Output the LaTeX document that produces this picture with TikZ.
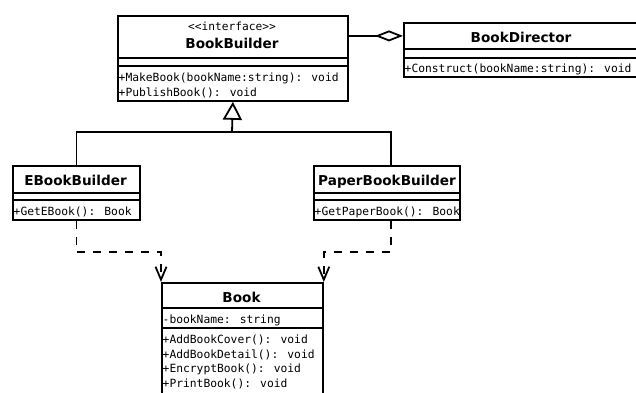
\documentclass[tikz,border=0pt]{standalone}
\usepackage{fontspec}
\setmainfont{DejaVu Sans}
\newfontfamily\monof{DejaVu Sans Mono}
\usetikzlibrary{arrows.meta,calc}
\tikzset{
  box/.style={draw, line width=1.8pt, inner sep=0pt, anchor=north west, fill=white},
  ttl/.style={font=\fontsize{13.6}{16}\selectfont\bfseries, anchor=base, inner sep=0pt},
  opline/.style={font=\monof\fontsize{11.3}{14}\selectfont, anchor=base west, inner sep=0pt},
  ster/.style={font=\monof\fontsize{11.2}{13}\selectfont, anchor=base, inner sep=0pt},
  link/.style={line width=1.8pt},
  dep/.style={line width=1.8pt, dash pattern=on 8pt off 8pt, -{Straight Barb[length=13pt,width=11pt]}},
}
\begin{document}
\begin{tikzpicture}[x=1pt,y=-1pt]
\useasboundingbox (0,0) rectangle (636,392);
\clip (0,0) rectangle (636,392);
\fill[white] (0,0) rectangle (636,392);

% BookBuilder
\node[box, minimum width=230pt, minimum height=42pt] (bbh) at (117,15) {};
\node[box, minimum width=230pt, minimum height=8pt] (bba) at (117,57) {};
\node[box, minimum width=230pt, minimum height=35pt] (bbo) at (117,65) {};
\node[ster] (bbs) at (232,30) {<\kern0pt<interface>\kern0pt>};
\node[ttl] (bbt) at (232,48) {BookBuilder};
\node[opline] (bbo1) at (118.5,81) {+MakeBook(bookName:string): void};
\node[opline] (bbo2) at (118.5,96) {+PublishBook(): void};

% BookDirector
\node[box, minimum width=236pt, minimum height=26pt] (bdh) at (403,22) {};
\node[box, minimum width=236pt, minimum height=9pt] (bda) at (403,48) {};
\node[box, minimum width=236pt, minimum height=19pt] (bdo) at (403,57) {};
\node[ttl] (bdt) at (521,42) {BookDirector};
\node[opline] (bdo1) at (404.5,72) {+Construct(bookName:string): void};

% EBookBuilder
\node[box, minimum width=127pt, minimum height=27pt] (ebh) at (12,165) {};
\node[box, minimum width=127pt, minimum height=7pt] (eba) at (12,192) {};
\node[box, minimum width=127pt, minimum height=20pt] (ebo) at (12,199) {};
\node[ttl] (ebt) at (75.5,185) {EBookBuilder};
\node[opline] (ebo1) at (13.5,215) {+GetEBook(): Book};

% PaperBookBuilder
\node[box, minimum width=146pt, minimum height=27pt] (pbh) at (313,165) {};
\node[box, minimum width=146pt, minimum height=7pt] (pba) at (313,192) {};
\node[box, minimum width=146pt, minimum height=20pt] (pbo) at (313,199) {};
\node[ttl] (pbt) at (387,185) {PaperBookBuilder};
\node[opline] (pbo1) at (314.5,215) {+GetPaperBook(): Book};

% Book
\node[box, minimum width=161pt, minimum height=25pt] (bkh) at (161,282) {};
\node[box, minimum width=161pt, minimum height=20pt] (bka) at (161,307) {};
\node[box, minimum width=161pt, minimum height=75pt] (bko) at (161,327) {};
\node[ttl] (bkt) at (241.5,302) {Book};
\node[opline] (bka1) at (162.5,323) {-bookName: string};
\node[opline] (bko1) at (162.5,343.5) {+AddBookCover(): void};
\node[opline] (bko2) at (162.5,358) {+AddBookDetail(): void};
\node[opline] (bko3) at (162.5,372.5) {+EncryptBook(): void};
\node[opline] (bko4) at (162.5,387) {+PrintBook(): void};

% aggregation
\draw[link, -{Diamond[fill=white, length=28pt, width=11pt]}] (bbh.east |- bdh.west) -- (bdh.west);

% inheritance
\coordinate (j) at (232,132);
\coordinate (pbj) at (391,165);
\draw[link] (ebh.north) |- (j) -| (pbj);
\draw[link, -{Triangle[fill=white, length=18pt, width=19pt]}] (j) -- (bbo.south);

% dependencies
\draw[dep] (ebo.south) -- ++(0,31) -| (bkh.north west);
\draw[dep] (pbo.south -| pbj) -- ++(0,31) -| (bkh.north east);
\end{tikzpicture}
\end{document}
